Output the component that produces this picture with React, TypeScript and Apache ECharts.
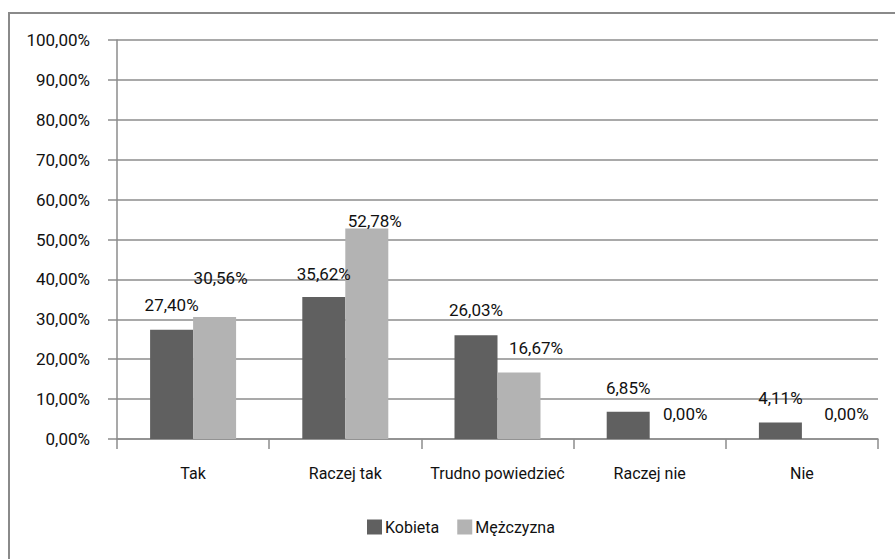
import React, { useEffect, useRef } from "react";
import * as echarts from "echarts";

const categories = ["Tak", "Raczej tak", "Trudno powiedzieć", "Raczej nie", "Nie"];
const seriesNames = ["Kobieta", "Mężczyzna"];
const kobieta = [27.4, 35.62, 26.03, 6.85, 4.11];
const mezczyzna = [30.56, 52.78, 16.67, 0.0, 0.0];
const yTicks = { min: 0, max: 100, interval: 10 };

// label nudges (styling only)
const kobietaLabelOffsets = [[0, 0], [0, 2], [0, -1], [0, 1], [0, 0]];
const mezczyznaLabelOffsets = [[6, -15], [8, 17], [17, 0], [14, -1], [23, -1]];

const FONT = "Roboto";
const TEXT = "#111111";
const GRID = "#8c8c8c";

const fmt = (v: number) => v.toFixed(2).replace(".", ",") + "%";

export default function App() {
  const ref = useRef<HTMLDivElement>(null);
  useEffect(() => {
    document.body.style.margin = "0";
    const chart = echarts.init(ref.current!, null, { renderer: "svg" });
    const mkData = (vals: number[], offs: number[][]) =>
      vals.map((v, i) => ({ value: v, label: { offset: offs[i] } }));
    const lbl = {
      show: true,
      position: "top",
      distance: 16,
      fontFamily: FONT,
      fontSize: 17,
      color: TEXT,
      formatter: (p: any) => fmt(p.value),
    };
    chart.setOption({
      animation: false,
      textStyle: { fontFamily: FONT, color: TEXT },
      graphic: [
        {
          type: "rect",
          shape: { x: 9, y: 13, width: 900, height: 600 },
          style: { fill: "none", stroke: "#8a8a8a", lineWidth: 2 },
          silent: true,
        },
      ],
      grid: { left: 117, right: 17, top: 40, bottom: 120, containLabel: false },
      legend: {
        data: seriesNames,
        left: 362,
        top: 514,
        icon: "rect",
        itemWidth: 15,
        itemHeight: 15,
        itemGap: 18,
        textStyle: { fontFamily: FONT, fontSize: 16, color: TEXT, padding: [0, 0, 0, -2] },
      },
      xAxis: {
        type: "category",
        data: categories,
        axisLine: { lineStyle: { color: GRID, width: 1.5 } },
        axisTick: { show: true, length: 10, lineStyle: { color: GRID, width: 1.5 } },
        axisLabel: { interval: 0, fontFamily: FONT, fontSize: 16, color: TEXT, margin: 24, lineHeight: 20 },
      },
      yAxis: {
        type: "value",
        min: yTicks.min,
        max: yTicks.max,
        interval: yTicks.interval,
        axisLine: { show: true, lineStyle: { color: GRID, width: 1.5 } },
        axisTick: { show: true, length: 9, lineStyle: { color: GRID, width: 1.5 } },
        splitLine: { lineStyle: { color: GRID, width: 1.5 } },
        axisLabel: { fontFamily: FONT, fontSize: 17, color: TEXT, margin: 27, formatter: fmt },
      },
      series: [
        {
          name: seriesNames[0],
          type: "bar",
          data: mkData(kobieta, kobietaLabelOffsets),
          barWidth: 43,
          barGap: "0%",
          itemStyle: { color: "#606060" },
          label: lbl,
        },
        {
          name: seriesNames[1],
          type: "bar",
          data: mkData(mezczyzna, mezczyznaLabelOffsets),
          barWidth: 43,
          barGap: "0%",
          itemStyle: { color: "#b3b3b3" },
          label: lbl,
        },
      ],
    });
    return () => chart.dispose();
  }, []);
  return <div ref={ref} style={{ width: 895, height: 559 }} />;
}
